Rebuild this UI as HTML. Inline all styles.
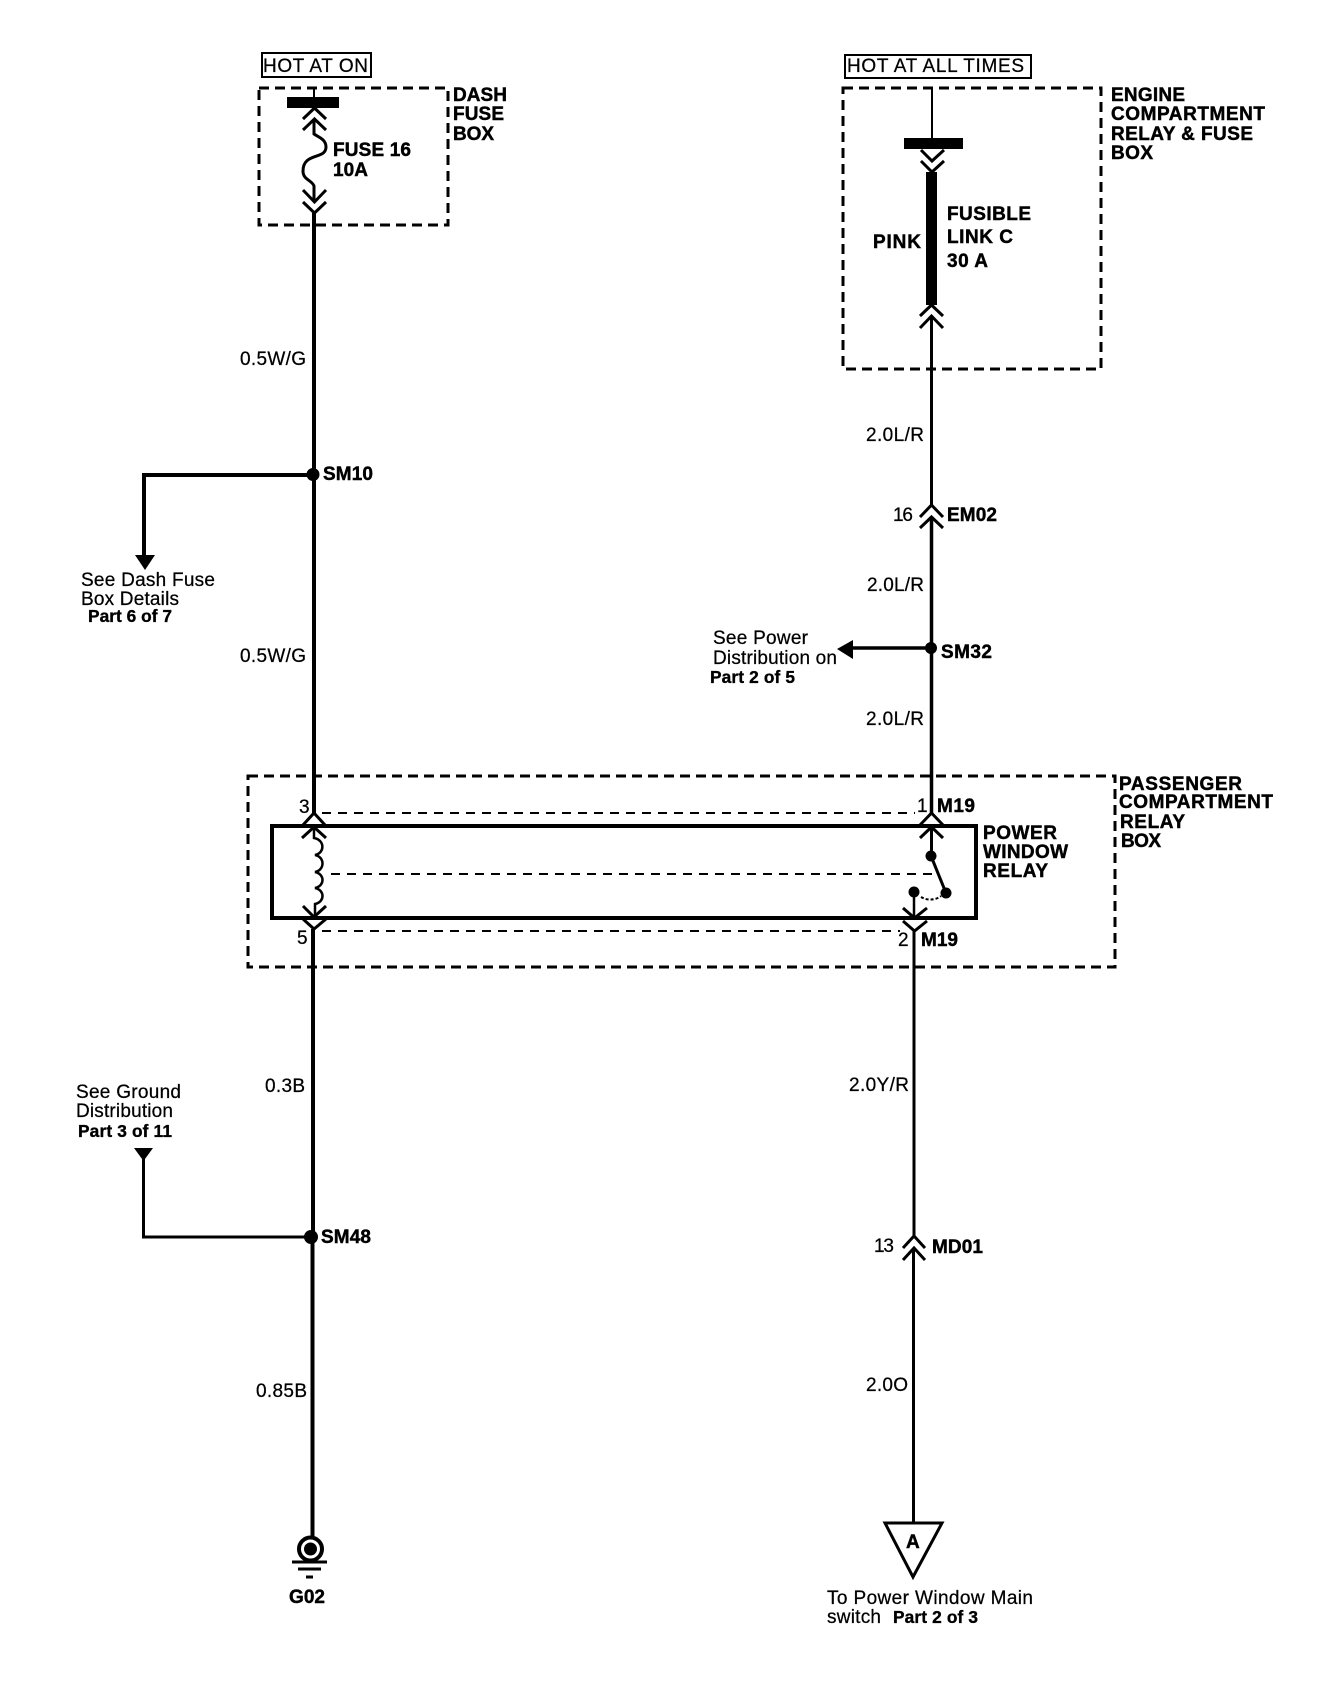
<!DOCTYPE html>
<html>
<head>
<meta charset="utf-8">
<style>
html,body{margin:0;padding:0;background:#fff;width:1344px;height:1682px;overflow:hidden}
svg{display:block}
text{font-family:"Liberation Sans",sans-serif;font-size:19px;fill:#000;stroke:#000;stroke-width:.25}
.b{font-weight:bold;stroke-width:.45}
.p{font-weight:bold;font-size:17.300px;stroke-width:.35}
.d{fill:none;stroke:#000;stroke-width:3;stroke-dasharray:10 6}
.t{fill:none;stroke:#000;stroke-width:2;stroke-dasharray:9 7}
.c{fill:none;stroke:#000;stroke-width:3}
.w{fill:none;stroke:#000;stroke-width:4}
.n{fill:none;stroke:#000;stroke-width:3}
</style>
</head>
<body>
<svg width="1344" height="1682" viewBox="0 0 1344 1682" xmlns="http://www.w3.org/2000/svg">
<rect width="1344" height="1682" fill="#fff"/>

<!-- Dash fuse box -->
<rect x="262" y="53" width="109" height="24" fill="none" stroke="#000" stroke-width="2"/>
<text x="263" y="72" textLength="105" lengthAdjust="spacing">HOT AT ON</text>
<rect x="259" y="88" width="189" height="137" class="d"/>
<path d="M314 87V98" fill="none" stroke="#000" stroke-width="2"/>
<rect x="287" y="97" width="52" height="11" fill="#000"/>
<path d="M303 119L314.500 108L326 119M303 130L314.500 119L326 130" class="c"/>
<path d="M314 119V134C318 137 326 139 326 147C326 160 303 152 303 171C303 180 312 180 314 186V202" class="c"/>
<path d="M303 190L314.500 202L326 190M303 202L314.500 213L326 202" class="c"/>
<text class="b" x="333" y="156" textLength="78" lengthAdjust="spacing">FUSE 16</text>
<text class="b" x="333" y="176" textLength="35" lengthAdjust="spacing">10A</text>
<text class="b" x="453" y="101" textLength="54" lengthAdjust="spacing">DASH</text>
<text class="b" x="453" y="120" textLength="51" lengthAdjust="spacing">FUSE</text>
<text class="b" x="453" y="140" textLength="41" lengthAdjust="spacing">BOX</text>

<!-- Left wire upper -->
<path d="M314 213V813" class="w"/>
<text x="240" y="365" textLength="66" lengthAdjust="spacing">0.5W/G</text>
<text x="240" y="662" textLength="66" lengthAdjust="spacing">0.5W/G</text>
<circle cx="313" cy="474.500" r="6.500" fill="#000"/>
<text class="b" x="323" y="480" textLength="50" lengthAdjust="spacing">SM10</text>
<path d="M313 475H144V556" class="w"/>
<polygon points="135,555 155,555 145,570" fill="#000"/>
<text x="81" y="586" textLength="134" lengthAdjust="spacing">See Dash Fuse</text>
<text x="81" y="605" textLength="98" lengthAdjust="spacing">Box Details</text>
<text class="p" x="88" y="622" textLength="84" lengthAdjust="spacing">Part 6 of 7</text>

<!-- Engine box -->
<rect x="845" y="55" width="186" height="23" fill="none" stroke="#000" stroke-width="2"/>
<text x="847" y="72" textLength="177" lengthAdjust="spacing">HOT AT ALL TIMES</text>
<rect x="843" y="88" width="258" height="281" class="d"/>
<path d="M932 87V138" fill="none" stroke="#000" stroke-width="2"/>
<rect x="904" y="138" width="59" height="11" fill="#000"/>
<path d="M921 150L932 161L944 150M921 161L932 172L944 161" class="c"/>
<rect x="926" y="172" width="11" height="133" fill="#000"/>
<path d="M920 316L931.500 305L943 316M920 328L931.500 316L943 328" class="c"/>
<text class="b" x="947" y="220" textLength="84" lengthAdjust="spacing">FUSIBLE</text>
<text class="b" x="947" y="243" textLength="66" lengthAdjust="spacing">LINK C</text>
<text class="b" x="947" y="267" textLength="41" lengthAdjust="spacing">30 A</text>
<text class="b" x="873" y="248" textLength="48" lengthAdjust="spacing">PINK</text>
<text class="b" x="1111" y="101" textLength="74" lengthAdjust="spacing">ENGINE</text>
<text class="b" x="1111" y="120" textLength="154" lengthAdjust="spacing">COMPARTMENT</text>
<text class="b" x="1111" y="140" textLength="142" lengthAdjust="spacing">RELAY &amp; FUSE</text>
<text class="b" x="1111" y="159" textLength="42" lengthAdjust="spacing">BOX</text>

<!-- Right wire upper -->
<path d="M931.500 316V505" class="n"/>
<text x="866" y="441" textLength="58" lengthAdjust="spacing">2.0L/R</text>
<path d="M920 517L931.500 505L943 517M920 528L931.500 517L943 528" class="c"/>
<text x="893" y="521" textLength="20" lengthAdjust="spacing">16</text>
<text class="b" x="947" y="521" textLength="50" lengthAdjust="spacing">EM02</text>
<path d="M931.500 517V813" fill="none" stroke="#000" stroke-width="3.500"/>
<text x="867" y="591" textLength="57" lengthAdjust="spacing">2.0L/R</text>
<circle cx="931" cy="648" r="6" fill="#000"/>
<path d="M931 648H850" class="n" style="stroke-width:3.500"/>
<polygon points="837,649 853,640 853,659" fill="#000"/>
<text class="b" x="941" y="658" textLength="51" lengthAdjust="spacing">SM32</text>
<text x="713" y="644" textLength="95" lengthAdjust="spacing">See Power</text>
<text x="713" y="664" textLength="124" lengthAdjust="spacing">Distribution on</text>
<text class="p" x="710" y="683" textLength="85" lengthAdjust="spacing">Part 2 of 5</text>
<text x="866" y="725" textLength="58" lengthAdjust="spacing">2.0L/R</text>

<!-- Passenger compartment box -->
<rect x="248" y="776" width="867" height="191" class="d"/>
<rect x="272" y="826" width="704" height="92" fill="none" stroke="#000" stroke-width="4"/>
<path d="M322 813H915" class="t"/>
<path d="M331 874H933" class="t"/>
<path d="M322 931H900" class="t"/>

<!-- Left side relay -->
<path d="M303 825L314 813L325 825M302 838L314 827L326 838" class="c"/>
<path d="M314 827V838C325 840 325 853 315 855C325 857 325 870 315 872C325 874 325 886 315 888C325 890 325 902 315 904V917" class="c" style="stroke-width:2.500"/>
<path d="M303 906L314 917L326 906M303 919L314 929L326 919" class="c"/>
<path d="M313 929V1237" class="w"/>
<text x="299" y="813">3</text>
<text x="297" y="944">5</text>

<!-- Right side relay -->
<path d="M920 825L931.500 813L943 825M920 838L931.500 827L943 838" class="c"/>
<path d="M931.500 827V856" class="n"/>
<circle cx="931" cy="856" r="5.500" fill="#000"/>
<path d="M931 856L946 893" class="n"/>
<circle cx="946" cy="893" r="5.500" fill="#000"/>
<circle cx="914" cy="892" r="5.500" fill="#000"/>
<path d="M921 897C928 901 936 900 941 896" fill="none" stroke="#000" stroke-width="2" stroke-dasharray="3 2"/>
<path d="M914 892V918" class="c" style="stroke-width:2.500"/>
<path d="M903 908L914.500 918L927 908M903 921L914.500 931L927 921" class="c"/>
<path d="M914 931V1236" class="n"/>
<text x="917" y="812">1</text>
<text class="b" x="937" y="812" textLength="38" lengthAdjust="spacing">M19</text>
<text x="898" y="946">2</text>
<text class="b" x="921" y="946" textLength="37" lengthAdjust="spacing">M19</text>
<text class="b" x="983" y="839" textLength="74" lengthAdjust="spacing">POWER</text>
<text class="b" x="983" y="858" textLength="85" lengthAdjust="spacing">WINDOW</text>
<text class="b" x="983" y="877" textLength="65" lengthAdjust="spacing">RELAY</text>
<text class="b" x="1119" y="790" textLength="123" lengthAdjust="spacing">PASSENGER</text>
<text class="b" x="1119" y="808" textLength="154" lengthAdjust="spacing">COMPARTMENT</text>
<text class="b" x="1120" y="828" textLength="65" lengthAdjust="spacing">RELAY</text>
<text class="b" x="1121" y="847" textLength="40" lengthAdjust="spacing">BOX</text>

<!-- Left wire lower -->
<text x="265" y="1092" textLength="40" lengthAdjust="spacing">0.3B</text>
<text x="76" y="1098" textLength="105" lengthAdjust="spacing">See Ground</text>
<text x="76" y="1117" textLength="97" lengthAdjust="spacing">Distribution</text>
<text class="p" x="78" y="1137" textLength="94" lengthAdjust="spacing">Part 3 of 11</text>
<polygon points="134,1148 153,1148 143.500,1161" fill="#000"/>
<path d="M143.500 1158V1237H311" class="n"/>
<circle cx="311" cy="1237" r="7" fill="#000"/>
<text class="b" x="321" y="1243" textLength="50" lengthAdjust="spacing">SM48</text>
<path d="M312.500 1237V1537" class="w"/>
<text x="256" y="1397" textLength="51" lengthAdjust="spacing">0.85B</text>
<circle cx="310.500" cy="1549" r="11.500" fill="none" stroke="#000" stroke-width="4"/>
<circle cx="310.500" cy="1549" r="6.500" fill="#000"/>
<path d="M292 1562H327M298 1569H321M306 1577H313" class="n"/>
<text class="b" x="289" y="1603" textLength="36" lengthAdjust="spacing">G02</text>

<!-- Right wire lower -->
<text x="849" y="1091" textLength="60" lengthAdjust="spacing">2.0Y/R</text>
<path d="M903 1248L914 1236L925 1248M903 1260L914 1248L925 1260" class="c"/>
<text x="874" y="1252" textLength="20" lengthAdjust="spacing">13</text>
<text class="b" x="932" y="1253" textLength="51" lengthAdjust="spacing">MD01</text>
<path d="M913.500 1248V1523" class="n"/>
<text x="866" y="1391" textLength="42" lengthAdjust="spacing">2.0O</text>
<polygon points="885,1523 942,1523 913,1577" fill="none" stroke="#000" stroke-width="3"/>
<text class="b" x="906" y="1548" textLength="13" lengthAdjust="spacing">A</text>
<text x="827" y="1604" textLength="206" lengthAdjust="spacing">To Power Window Main</text>
<text x="827" y="1623" textLength="54" lengthAdjust="spacing">switch</text>
<text class="p" x="893" y="1623" textLength="85" lengthAdjust="spacing">Part 2 of 3</text>
</svg>
</body>
</html>
